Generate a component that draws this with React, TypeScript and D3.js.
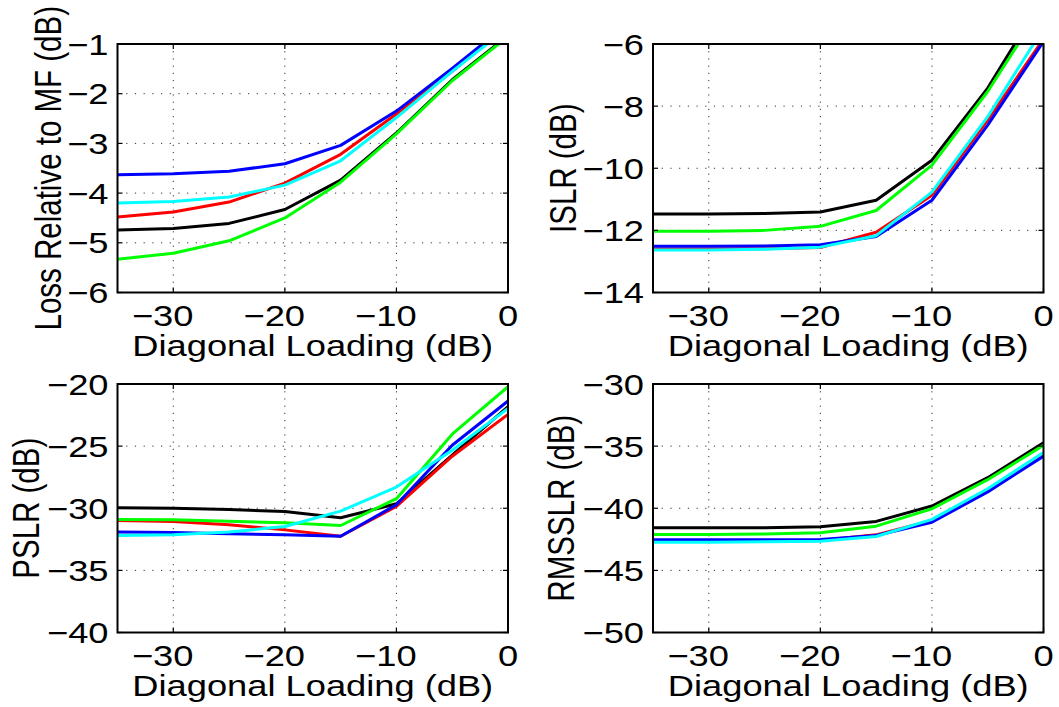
import React from "react";
import * as d3 from "d3";

// ---------- data ----------
const xValues = [-35, -30, -25, -20, -15, -10, -5, 0];
const xTicks = [-30, -20, -10, 0];
const seriesColors = ["#000000", "#ff0000", "#00ff00", "#0000ff", "#00ffff"]; // black, red, green, blue, cyan

// Loss Relative to MF (dB)
const lossBlack = [-4.74, -4.71, -4.61, -4.33, -3.74, -2.79, -1.72, -0.83];
const lossRed = [-4.48, -4.38, -4.18, -3.8, -3.22, -2.41, -1.55, -0.63];
const lossGreen = [-5.33, -5.21, -4.96, -4.5, -3.78, -2.81, -1.74, -0.85];
const lossBlue = [-3.63, -3.61, -3.56, -3.41, -3.04, -2.35, -1.49, -0.59];
const lossCyan = [-4.2, -4.17, -4.08, -3.84, -3.35, -2.48, -1.55, -0.67];
const lossTicks = [-6, -5, -4, -3, -2, -1];

// ISLR (dB)
const islrBlack = [-11.47, -11.47, -11.46, -11.41, -11.03, -9.74, -7.42, -4.49];
const islrRed = [-12.6, -12.6, -12.59, -12.55, -12.06, -10.87, -8.45, -5.84];
const islrGreen = [-12.03, -12.03, -12.0, -11.87, -11.36, -9.9, -7.53, -4.73];
const islrBlue = [-12.51, -12.51, -12.5, -12.46, -12.2, -11.03, -8.61, -5.92];
const islrCyan = [-12.63, -12.63, -12.61, -12.54, -12.17, -10.77, -8.34, -5.49];
const islrTicks = [-14, -12, -10, -8, -6];

// PSLR (dB)
const pslrBlack = [-29.96, -29.99, -30.1, -30.26, -30.77, -29.64, -25.73, -21.83];
const pslrRed = [-30.98, -31.06, -31.33, -31.74, -32.25, -29.85, -25.81, -22.45];
const pslrGreen = [-30.9, -30.92, -31.04, -31.17, -31.39, -29.23, -24.04, -20.22];
const pslrBlue = [-31.92, -31.96, -32.06, -32.14, -32.25, -29.72, -24.93, -21.37];
const pslrCyan = [-32.19, -32.14, -31.92, -31.47, -30.23, -28.29, -25.33, -21.97];
const pslrTicks = [-40, -35, -30, -25, -20];

// RMSSLR (dB)
const rmsBlack = [-41.57, -41.57, -41.56, -41.49, -41.06, -39.82, -37.54, -34.74];
const rmsRed = [-42.68, -42.68, -42.66, -42.6, -42.14, -40.98, -38.55, -35.68];
const rmsGreen = [-42.11, -42.11, -42.08, -41.98, -41.44, -40.04, -37.7, -34.93];
const rmsBlue = [-42.54, -42.54, -42.53, -42.52, -42.19, -41.12, -38.69, -35.81];
const rmsCyan = [-42.73, -42.73, -42.7, -42.65, -42.27, -40.9, -38.43, -35.52];
const rmsTicks = [-50, -45, -40, -35, -30];

const xLabel = "Diagonal Loading (dB)";

// ---------- layout ----------
const W = 1059;
const H = 707;
const FONT = "'Liberation Sans', Arial, Helvetica, sans-serif";
const FS = 29.5;
const SX = 1.23;

type Panel = {
  id: string;
  left: number;
  right: number;
  top: number;
  bottom: number;
  yDomain: [number, number];
  yTicks: number[];
  yLabel: string;
  yLabelX: number;
  series: number[][];
};

const panels: Panel[] = [
  {
    id: "loss", left: 117.5, right: 508, top: 44, bottom: 292.5,
    yDomain: [-6, -1], yTicks: lossTicks, yLabel: "Loss Relative to MF (dB)", yLabelX: 60.5,
    series: [lossBlack, lossRed, lossGreen, lossBlue, lossCyan],
  },
  {
    id: "islr", left: 653, right: 1043.5, top: 44, bottom: 292.5,
    yDomain: [-14, -6], yTicks: islrTicks, yLabel: "ISLR (dB)", yLabelX: 575.5,
    series: [islrBlack, islrRed, islrGreen, islrBlue, islrCyan],
  },
  {
    id: "pslr", left: 117.5, right: 508, top: 384, bottom: 632.5,
    yDomain: [-40, -20], yTicks: pslrTicks, yLabel: "PSLR (dB)", yLabelX: 38.8,
    series: [pslrBlack, pslrRed, pslrGreen, pslrBlue, pslrCyan],
  },
  {
    id: "rms", left: 653, right: 1043.5, top: 384, bottom: 632.5,
    yDomain: [-50, -30], yTicks: rmsTicks, yLabel: "RMSSLR (dB)", yLabelX: 574,
    series: [rmsBlack, rmsRed, rmsGreen, rmsBlue, rmsCyan],
  },
];

const fmt = (v: number) => (v < 0 ? "\u2212" + Math.abs(v) : String(v));

function PanelView({ p }: { p: Panel }) {
  const x = d3.scaleLinear().domain([-35, 0]).range([p.left, p.right]);
  const y = d3.scaleLinear().domain(p.yDomain).range([p.bottom, p.top]);
  const line = d3
    .line<number>()
    .x((_, i) => x(xValues[i]))
    .y((d) => y(d));
  const tickLen = 5;
  const digitW = 0.556 * FS * SX;
  return (
    <g>
      <defs>
        <clipPath id={"clip-" + p.id}>
          <rect x={p.left} y={p.top} width={p.right - p.left} height={p.bottom - p.top} />
        </clipPath>
      </defs>
      {/* grid */}
      {p.yTicks.map((t) => (
        <line key={"gy" + t} x1={p.left} x2={p.right} y1={y(t)} y2={y(t)}
          stroke="#333" strokeWidth={1} strokeDasharray="1.2 7.5" />
      ))}
      {xTicks.map((t) => (
        <line key={"gx" + t} x1={x(t)} x2={x(t)} y1={p.top} y2={p.bottom}
          stroke="#333" strokeWidth={1} strokeDasharray="1.2 6" />
      ))}
      {/* lines */}
      <g clipPath={`url(#clip-${p.id})`}>
        {p.series.map((s, i) => (
          <path key={i} d={line(s) || ""} fill="none" stroke={seriesColors[i]}
            strokeWidth={3} strokeLinejoin="round" />
        ))}
      </g>
      {/* ticks */}
      {xTicks.map((t) => (
        <g key={"tx" + t}>
          <line x1={x(t)} x2={x(t)} y1={p.bottom} y2={p.bottom - tickLen} stroke="#000" strokeWidth={1.2} />
          <line x1={x(t)} x2={x(t)} y1={p.top} y2={p.top + tickLen} stroke="#000" strokeWidth={1.2} />
        </g>
      ))}
      {p.yTicks.map((t) => (
        <g key={"ty" + t}>
          <line x1={p.left} x2={p.left + tickLen} y1={y(t)} y2={y(t)} stroke="#000" strokeWidth={1.2} />
          <line x1={p.right} x2={p.right - tickLen} y1={y(t)} y2={y(t)} stroke="#000" strokeWidth={1.2} />
        </g>
      ))}
      {/* box */}
      <rect x={p.left} y={p.top} width={p.right - p.left} height={p.bottom - p.top}
        fill="none" stroke="#000" strokeWidth={2} />
      {/* x tick labels */}
      {xTicks.map((t) => {
        const digits = String(Math.abs(t));
        const by = p.bottom + 33;
        return (
          <g key={"lx" + t} fontFamily={FONT} fontSize={FS} fill="#000">
            <text textAnchor="middle" transform={`translate(${x(t)},${by}) scale(${SX},1)`}>{digits}</text>
            {t < 0 && (
              <text textAnchor="end"
                transform={`translate(${x(t) - (digits.length * digitW) / 2},${by}) scale(${SX},1)`}>
                {"\u2212"}
              </text>
            )}
          </g>
        );
      })}
      {/* y tick labels */}
      {p.yTicks.map((t) => (
        <text key={"ly" + t} fontFamily={FONT} fontSize={FS} fill="#000" textAnchor="end"
          transform={`translate(${p.left - 9},${y(t) + 10.5}) scale(${SX},1)`}>
          {fmt(t)}
        </text>
      ))}
      {/* x label */}
      <text fontFamily={FONT} fontSize={FS} fill="#000" textAnchor="middle"
        transform={`translate(${(p.left + p.right) / 2},${p.bottom + 63}) scale(${SX},1)`}>
        {xLabel}
      </text>
      {/* y label */}
      <text fontFamily={FONT} fontSize={FS} fill="#000" textAnchor="middle"
        transform={`translate(${p.yLabelX},${(p.top + p.bottom) / 2}) scale(${SX},1) rotate(-90)`}>
        {p.yLabel}
      </text>
    </g>
  );
}

export default function App() {
  return (
    <svg width={W} height={H} viewBox={`0 0 ${W} ${H}`}
      style={{ position: "absolute", left: 0, top: 0, background: "#fff" }}>
      <rect x={0} y={0} width={W} height={H} fill="#fff" />
      {panels.map((p) => (
        <PanelView key={p.id} p={p} />
      ))}
    </svg>
  );
}
